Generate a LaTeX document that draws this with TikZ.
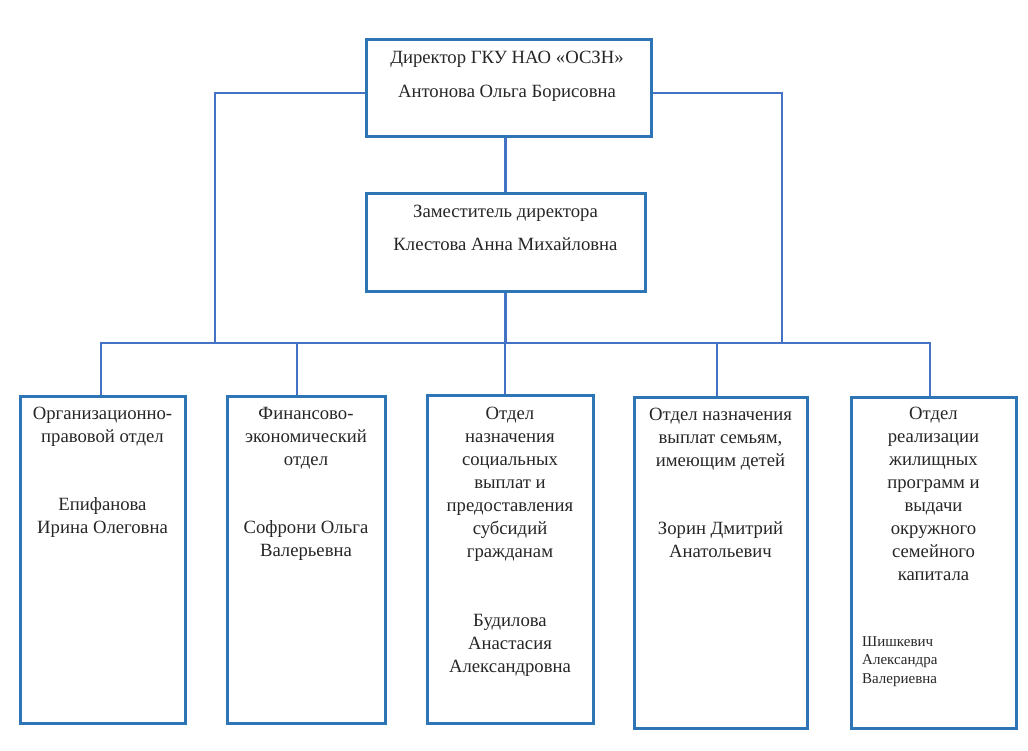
\documentclass[tikz,border=0pt]{standalone}
\usepackage{fontspec}
\setmainfont{Liberation Serif}
\usetikzlibrary{positioning}
\definecolor{boxblue}{RGB}{46,117,182}
\definecolor{lineblue}{RGB}{68,114,196}

\begin{document}
\begin{tikzpicture}[x=1pt,y=-1pt,
  head/.style={rectangle,draw=boxblue,line width=3pt,inner sep=0pt},
  dept/.style={rectangle,draw=boxblue,line width=3pt,inner sep=0pt},
  txt/.style={anchor=base,align=center,inner sep=0pt,text=black!85,font=\fontsize{18.7}{23}\selectfont},
  small/.style={anchor=base west,align=left,inner sep=0pt,text=black!85,font=\fontsize{15}{18.5}\selectfont},
  a/.style={draw=lineblue,line width=2.8pt}]
  \useasboundingbox (0,0) rectangle (1028,751);
  \node[head,minimum width=285pt,minimum height=97pt] (dir) at (508.5,88.5) {};
  \node[txt,font=\fontsize{18.7}{34}\selectfont] (tdir) at (507,98) {Директор ГКУ НАО «ОСЗН»\\Антонова Ольга Борисовна};
  \node[head,minimum width=279pt,minimum height=98pt] (dep) at (505.5,243) {};
  \node[txt,font=\fontsize{18.7}{33}\selectfont] (tdep) at (505.5,251) {Заместитель директора\\Клестова Анна Михайловна};
  \node[dept,minimum width=165pt,minimum height=327pt] (o1) at (102.5,559.5) {};
  \node[dept,minimum width=158pt,minimum height=327pt] (o2) at (306,559.5) {};
  \node[dept,minimum width=166pt,minimum height=328pt] (o3) at (510,559) {};
  \node[dept,minimum width=173pt,minimum height=331pt] (o4) at (720.5,562.5) {};
  \node[dept,minimum width=165pt,minimum height=331pt] (o5) at (933.5,562.5) {};
  \node[txt] (t1) at (102.5,442) {Организационно-\\правовой отдел};
  \node[txt] (n1) at (102.5,533) {Епифанова\\Ирина Олеговна};
  \node[txt] (t2) at (306,465) {Финансово-\\экономический\\отдел};
  \node[txt] (n2) at (306,556) {Софрони Ольга\\Валерьевна};
  \node[txt] (t3) at (510,557) {Отдел\\назначения\\социальных\\выплат и\\предоставления\\субсидий\\гражданам};
  \node[txt] (n3) at (510,672) {Будилова\\Анастасия\\Александровна};
  \node[txt] (t4) at (720.5,466) {Отдел назначения\\выплат семьям,\\имеющим детей};
  \node[txt] (n4) at (720.5,557) {Зорин Дмитрий\\Анатольевич};
  \node[txt] (t5) at (933.5,580) {Отдел\\реализации\\жилищных\\программ и\\выдачи\\окружного\\семейного\\капитала};
  \node[small] (n5) at (862,683) {Шишкевич\\Александра\\Валериевна};
  \coordinate (bus) at (505,343);
  \coordinate (busL) at (215,343);
  \coordinate (busR) at (782,343);
  \coordinate (d2) at ([xshift=-9pt]o2.north);
  \coordinate (d4) at ([xshift=-3.5pt]o4.north);
  \draw[a] (dep.north) -- (dep.north |- dir.south);
  \draw[a] (dep.south) -- (dep.south |- bus);
  \draw[a] ([yshift=-4.5pt]dir.west) -| (busL);
  \draw[a] ([yshift=-4.5pt]dir.east) -| (busR);
  \draw[a] ([xshift=-1.5pt]o1.north) |- (bus) -| ([xshift=-3.5pt]o5.north);
  \draw[a] (d2) -- (d2 |- bus);
  \draw[a] (o3.north -| bus) -- (bus);
  \draw[a] (d4) -- (d4 |- bus);
\end{tikzpicture}
\end{document}
